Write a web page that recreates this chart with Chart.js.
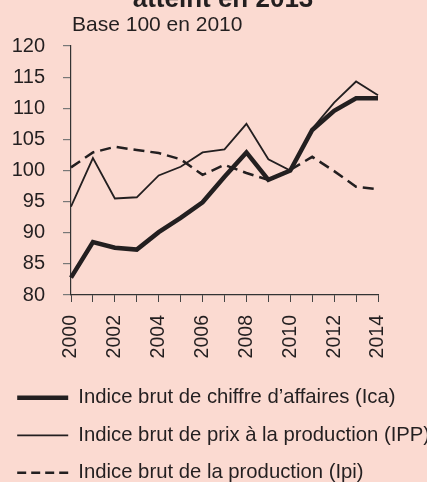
<!DOCTYPE html>
<html>
<head>
<meta charset="utf-8">
<script src="https://cdn.jsdelivr.net/npm/chart.js@4"></script>
<style>
  html, body { margin: 0; padding: 0; background: #fbdad1; overflow: hidden; }
  #wrap { position: relative; width: 427px; height: 482px; }
</style>
</head>
<body>
<div id="wrap"><canvas id="chart" width="427" height="482"></canvas></div>
<script>
const years = ['2000','2001','2002','2003','2004','2005','2006','2007','2008','2009','2010','2011','2012','2013','2014'];
const icaValues = [82.8, 88.5, 87.6, 87.3, 90.1, 92.4, 94.9, 99.0, 102.9, 98.5, 100.0, 106.5, 109.6, 111.6, 111.6];
const ippValues = [94.2, 102.0, 95.5, 95.7, 99.2, 100.6, 102.9, 103.4, 107.5, 101.8, 100.0, 106.7, 110.9, 114.3, 112.1];
const ipiValues = [100.5, 102.9, 103.8, 103.3, 102.8, 101.8, 99.3, 100.9, 99.6, 98.5, 100.1, 102.2, 99.9, 97.4, 97.0];
const yTicks = [80, 85, 90, 95, 100, 105, 110, 115, 120];

const titleText = 'atteint en 2013';
const subtitleText = 'Base 100 en 2010';
const ink = '#231f20';
const fontFamily = '"Liberation Sans", Arial, sans-serif';

// Title (clipped at the top like the original) and subtitle
const headerPlugin = {
  id: 'header',
  afterDraw(chart) {
    const ctx = chart.ctx;
    ctx.save();
    ctx.fillStyle = ink;
    ctx.textBaseline = 'alphabetic';
    ctx.font = 'bold 26px ' + fontFamily;
    ctx.textAlign = 'center';
    ctx.fillText(titleText, 223, 7);
    ctx.font = '21px ' + fontFamily;
    ctx.textAlign = 'left';
    ctx.fillText(subtitleText, 72, 31);
    ctx.restore();
  }
};

new Chart(document.getElementById('chart'), {
  type: 'line',
  data: {
    labels: years,
    datasets: [
      {
        label: 'Indice brut de chiffre d’affaires (Ica)',
        data: icaValues,
        borderColor: ink,
        borderWidth: 4.5,
        pointRadius: 0,
        tension: 0
      },
      {
        label: 'Indice brut de prix à la production (IPP)',
        data: ippValues,
        borderColor: ink,
        borderWidth: 1.8,
        pointRadius: 0,
        tension: 0
      },
      {
        label: 'Indice brut de la production (Ipi)',
        data: ipiValues,
        borderColor: ink,
        borderWidth: 2.5,
        borderDash: [11, 6],
        pointRadius: 0,
        tension: 0
      }
    ]
  },
  options: {
    responsive: false,
    animation: false,
    layout: { padding: { top: 46, right: 0, bottom: -11, left: 0 } },
    plugins: {
      tooltip: { enabled: false },
      legend: {
        position: 'bottom',
        align: 'start',
        labels: {
          usePointStyle: true,
          pointStyleWidth: 51,
          padding: 17.2,
          color: ink,
          font: { family: fontFamily, size: 20.3 },
          generateLabels(chart) {
            return chart.data.datasets.map((ds, i) => ({
              text: ds.label,
              fillStyle: ink,
              strokeStyle: ink,
              lineWidth: ds.borderWidth,
              lineDash: i === 2 ? [9, 5] : [],
              pointStyle: 'line',
              fontColor: ink,
              datasetIndex: i
            }));
          }
        }
      }
    },
    scales: {
      x: {
        offset: false,
        afterFit(scale) { scale.height = 75.5; },
        grid: { drawOnChartArea: false, drawTicks: true, tickLength: 7, color: '#444', lineWidth: 1 },
        border: { color: '#333', width: 1.2 },
        ticks: {
          autoSkip: false,
          minRotation: 90,
          maxRotation: 90,
          padding: 13,
          color: ink,
          font: { family: fontFamily, size: 19.5 },
          callback(value, index) {
            return index % 2 === 0 ? years[index] : '';
          }
        }
      },
      y: {
        min: 80,
        max: 120,
        afterFit(scale) { scale.width = 71; },
        afterBuildTicks(scale) { scale.ticks = yTicks.map(v => ({ value: v })); },
        grid: { drawOnChartArea: false, drawTicks: true, tickLength: 8, color: '#777', lineWidth: 1.2 },
        border: { color: '#333', width: 1.2 },
        ticks: {
          padding: 18,
          color: ink,
          font: { family: fontFamily, size: 20 }
        }
      },
      // empty right-hand axis, only reserves the margin right of the plot
      yRight: {
        position: 'right',
        min: 80,
        max: 120,
        afterFit(scale) { scale.width = 49; },
        grid: { display: false },
        border: { display: false },
        ticks: { display: false }
      }
    }
  },
  plugins: [headerPlugin]
});
</script>
</body>
</html>
